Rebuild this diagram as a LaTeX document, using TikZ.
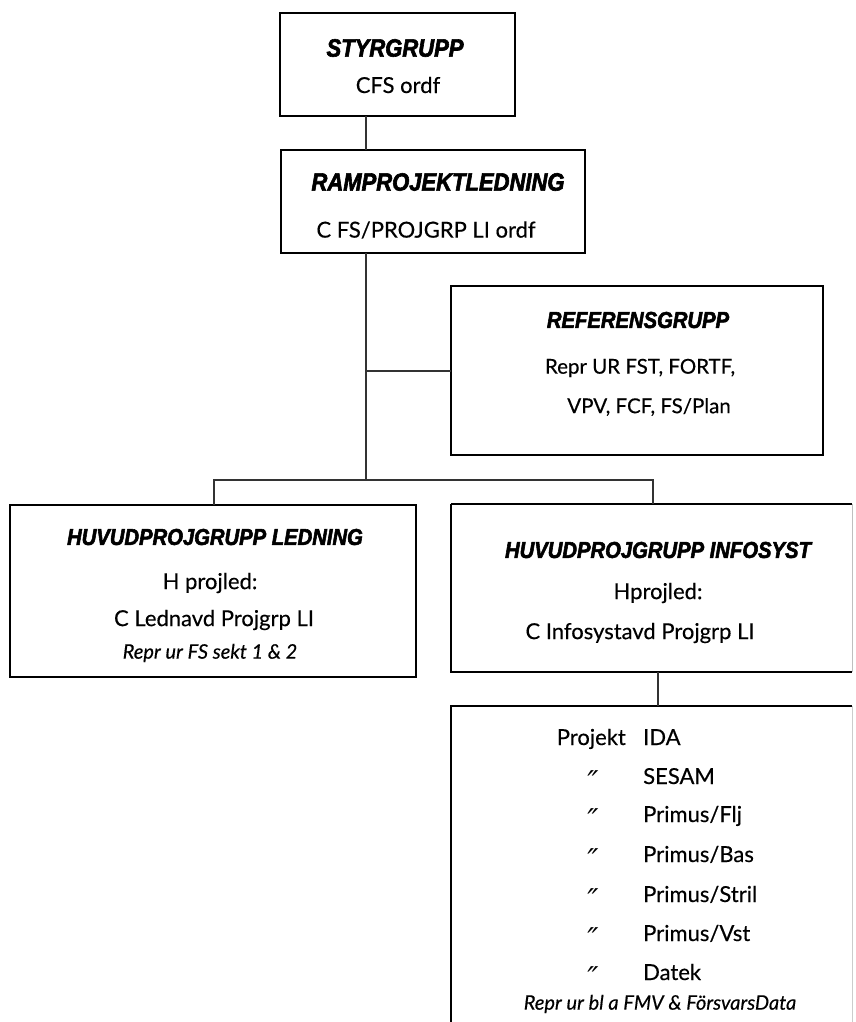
\documentclass[tikz,border=0pt]{standalone}
\usepackage{fontspec}
\setmainfont[FakeBold=0.35]{Lato}
\newfontfamily\tfont[FakeStretch=0.88,FakeBold=2.4]{Liberation Sans Bold Italic}
\newfontfamily\dvfont{DejaVu Sans Oblique}
\begin{document}
\begin{tikzpicture}[x=1pt,y=-1pt,
  box/.style={draw=black,line width=1.1pt},
  conn/.style={draw=black!80,line width=1.1pt},
  ttlbig/.style={inner sep=0pt,font=\tfont\fontsize{25}{25}\selectfont},
  ttl/.style={inner sep=0pt,font=\tfont\fontsize{23}{23}\selectfont},
  txt/.style={inner sep=0pt,font=\fontsize{22}{22}\selectfont},
  itx/.style={inner sep=0pt,font=\itshape\fontsize{20}{20}\selectfont},
  lbl/.style={inner sep=0pt,anchor=base west,font=\fontsize{22}{22}\selectfont},
  ditto/.style={inner sep=0pt,anchor=base,text height=23pt,text depth=0pt,font=\dvfont\fontsize{30}{30}\selectfont}
]
\useasboundingbox[fill=white] (0,0) rectangle (855,1022);

% boxes
\draw[box] (280,13) rectangle (515,116);
\node[ttlbig] (styT) at (395,48) {STYRGRUPP};
\node[txt] (styS) at (398,85) {CFS ordf};
\coordinate (styB) at (366,116);

\draw[box] (281,150) rectangle (585,253);
\node[ttlbig] (ramT) at (438,182) {RAMPROJEKTLEDNING};
\node[txt] (ramS) at (426,230) {C FS/PROJGRP LI ordf};
\coordinate (ramTop) at (366,150);
\coordinate (ramB) at (366,253);

\draw[box] (451,286) rectangle (823,455);
\node[ttl] (refT) at (638,320) {REFERENSGRUPP};
\node[txt,font=\fontsize{20.5}{21}\selectfont] (refA) at (640,368) {Repr UR FST, FORTF,};
\node[txt,font=\fontsize{20.5}{21}\selectfont] (refB) at (649,407) {VPV, FCF, FS/Plan};
\coordinate (refL) at (451,371);

\draw[box] (10,505) rectangle (416,677);
\node[ttl] (ledT) at (215,537) {HUVUDPROJGRUPP LEDNING};
\node[txt] (ledA) at (210,583) {H projled:};
\node[txt] (ledB) at (214,620) {C Lednavd Projgrp LI};
\node[itx] (ledC) at (210,653) {Repr ur FS sekt 1 \& 2};
\coordinate (ledTop) at (214,505);

\draw[box] (451,504) -- (852,504);
\draw[box] (451,504) -- (451,672) -- (852,672);
\draw[draw=black!25,line width=1pt] (852,504) -- (852,672);
\node[ttl] (infT) at (658,550) {HUVUDPROJGRUPP INFOSYST};
\node[txt] (infA) at (658,593) {Hprojled:};
\node[txt] (infB) at (640,633) {C Infosystavd Projgrp LI};
\coordinate (infTop) at (653,504);
\coordinate (infBot) at (658,672);

% project box (open at bottom)
\draw[box] (451,1022) -- (451,706) -- (852,706);
\draw[draw=black!20,line width=1pt] (852,706) -- (852,1022);
\coordinate (prjTop) at (658,706);

\node[lbl,anchor=base east] (p0) at (626,745) {Projekt};
\node[lbl] (n0) at (643,745) {IDA};
\foreach \y/\t [count=\i] in {784/{SESAM},822/{Primus/Flj},862/{Primus/Bas},902/{Primus/Stril},941/{Primus/Vst},980/{Datek}}{
  \node[ditto] (d\i) at (593,\y+8) {″};
  \node[lbl] (n\i) at (643,\y) {\t};
}
\node[itx] (prjR) at (660,1004) {Repr ur bl a FMV \& FörsvarsData};

% connectors
\draw[conn] (styB) -- (ramTop);
\coordinate (bus) at (366,480);
\draw[conn] (ramB) -- (bus);
\draw[conn] (366,371) -- (refL);
\draw[conn] (ledTop) -- (214,480) -- (653,480) -- (infTop);
\draw[conn] (infBot) -- (prjTop);
\end{tikzpicture}
\end{document}
